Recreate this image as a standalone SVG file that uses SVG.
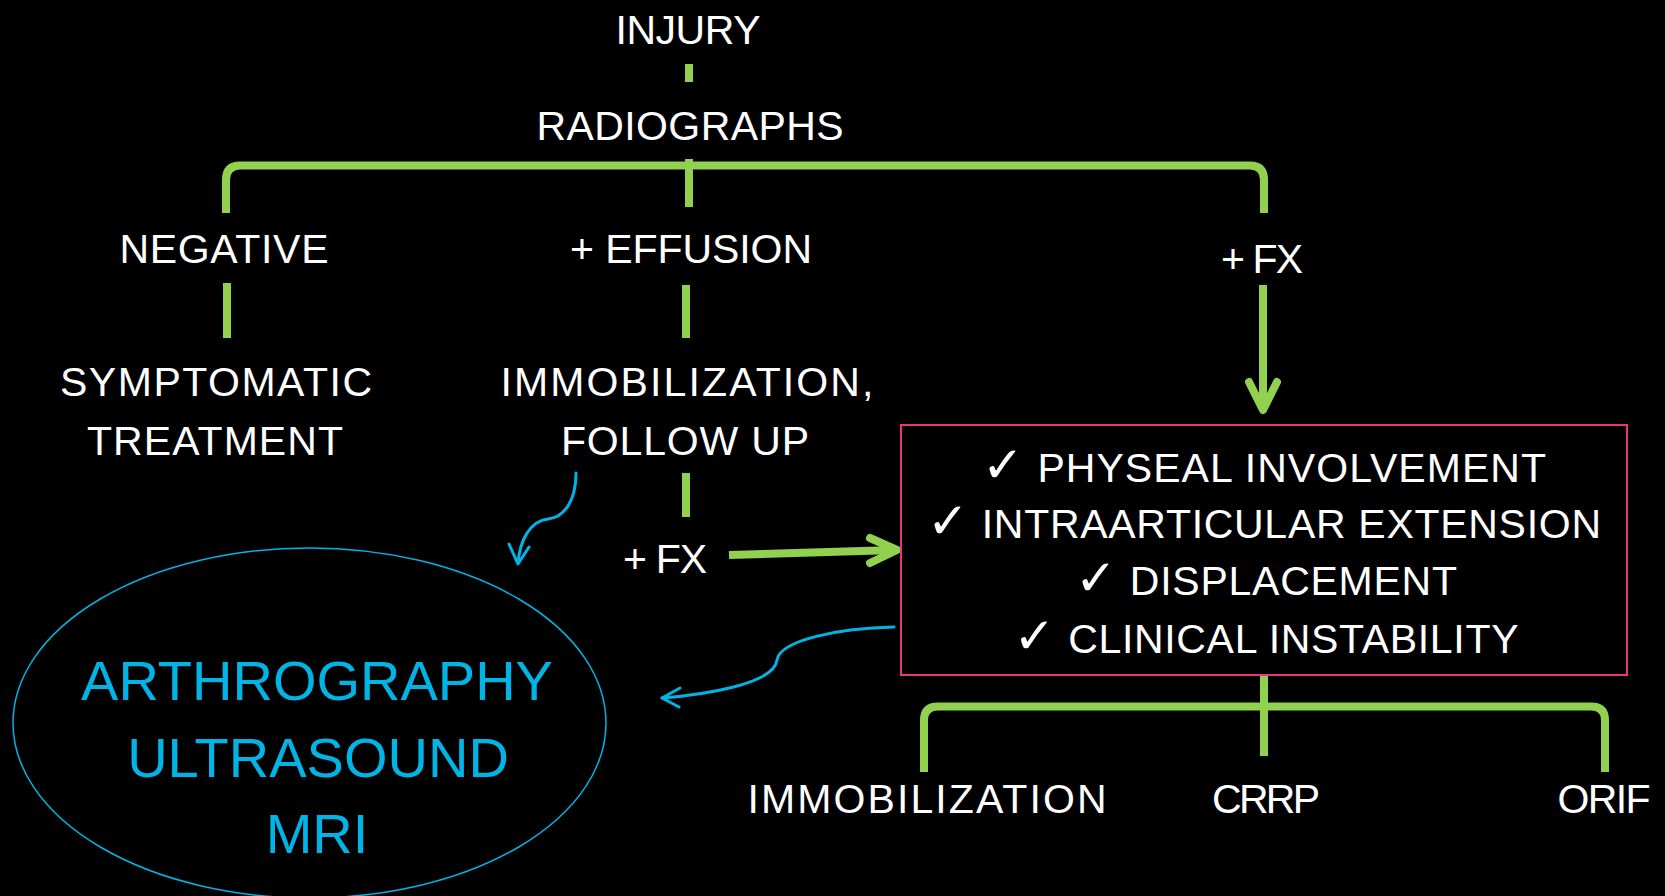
<svg xmlns="http://www.w3.org/2000/svg" width="1665" height="896" viewBox="0 0 1665 896">
<defs>
<style>
.t{font-family:"Liberation Sans","DejaVu Sans",sans-serif;font-size:41px;fill:#ffffff;text-anchor:middle}
.k{font-family:"DejaVu Sans",sans-serif;font-size:50px}
.c{font-family:"Liberation Sans","DejaVu Sans",sans-serif;font-size:56px;fill:#00B4E6;text-anchor:middle}
.g{fill:none;stroke:#92D050;stroke-width:8}
.ga{fill:none;stroke:#92D050;stroke-width:8;stroke-linecap:round;stroke-linejoin:round}
.b{fill:none;stroke:#00B4E6;stroke-width:3;stroke-linecap:round;stroke-linejoin:round}
</style>
</defs>
<rect x="0" y="0" width="1665" height="896" fill="#000000"/>
<g id="connectors">
<line class="g" x1="689" y1="64" x2="689" y2="82"/>
<path class="g" d="M226,213 L226,180 Q226,165.5 240,165.5 L1250,165.5 Q1264,165.5 1264,180 L1264,213"/>
<line class="g" x1="689" y1="159" x2="689" y2="207"/>
<line class="g" x1="227" y1="283" x2="227" y2="338"/>
<line class="g" x1="686" y1="285" x2="686" y2="338"/>
<line class="g" x1="686" y1="473" x2="686" y2="517"/>
<line class="g" x1="1263" y1="285" x2="1263" y2="408"/>
<polyline class="ga" points="1249,382 1263,410 1277,382"/>
<line class="g" x1="729" y1="555" x2="895" y2="550"/>
<polyline class="ga" points="870,538 897,550 870,563"/>
<line class="g" x1="1264" y1="675" x2="1264" y2="756"/>
<path class="g" d="M924,772 L924,720 Q924,706.5 938,706.5 L1591,706.5 Q1605,706.5 1605,720 L1605,772"/>
<path class="b" d="M576,473 C576,500 565,517 548,519 C530,521 520,540 518,563"/>
<polyline class="b" points="509,544 518,564 529,547"/>
<path class="b" d="M894,627 C840,628 780,640 777,660 C774,685 700,695 662,698"/>
<polyline class="b" points="680,688 662,698 679,707"/>
</g>
<g id="injury"><text class="t" x="688" y="44" textLength="145" lengthAdjust="spacing">INJURY</text></g>
<g id="radiographs"><text class="t" x="690" y="140" textLength="307" lengthAdjust="spacing">RADIOGRAPHS</text></g>
<g id="negative"><text class="t" x="224" y="263" textLength="209" lengthAdjust="spacing">NEGATIVE</text></g>
<g id="effusion"><text class="t" x="691" y="263" textLength="242" lengthAdjust="spacing">+ EFFUSION</text></g>
<g id="fx-right"><text class="t" x="1262" y="273" textLength="82" lengthAdjust="spacing">+ FX</text></g>
<g id="symptomatic"><text class="t" x="216" y="396" textLength="312" lengthAdjust="spacing">SYMPTOMATIC</text><text class="t" x="215" y="455" textLength="256" lengthAdjust="spacing">TREATMENT</text></g>
<g id="immobilization-followup"><text class="t" x="687" y="396" textLength="373" lengthAdjust="spacing">IMMOBILIZATION,</text><text class="t" x="685" y="455" textLength="248" lengthAdjust="spacing">FOLLOW UP</text></g>
<g id="fx-mid"><text class="t" x="665" y="573" textLength="84" lengthAdjust="spacing">+ FX</text></g>
<g id="criteria">
<rect x="901" y="425" width="726" height="250" fill="none" stroke="#E8357E" stroke-width="2"/>
<text class="t" x="1264" y="482" textLength="564" lengthAdjust="spacing"><tspan class="k">✓</tspan> PHYSEAL INVOLVEMENT</text>
<text class="t" x="1264" y="538" textLength="674" lengthAdjust="spacing"><tspan class="k">✓</tspan> INTRAARTICULAR EXTENSION</text>
<text class="t" x="1266" y="595" textLength="382" lengthAdjust="spacing"><tspan class="k">✓</tspan> DISPLACEMENT</text>
<text class="t" x="1266" y="653" textLength="505" lengthAdjust="spacing"><tspan class="k">✓</tspan> CLINICAL INSTABILITY</text>
</g>
<g id="imaging">
<ellipse cx="309.5" cy="723" rx="296.5" ry="175" fill="none" stroke="#00B4E6" stroke-width="1.5"/>
<text class="c" x="317" y="700">ARTHROGRAPHY</text>
<text class="c" x="318" y="777">ULTRASOUND</text>
<text class="c" x="317" y="853">MRI</text>
</g>
<g id="immobilization"><text class="t" x="927" y="813" textLength="359" lengthAdjust="spacing">IMMOBILIZATION</text></g>
<g id="crrp"><text class="t" x="1266" y="813" textLength="108" lengthAdjust="spacing">CRRP</text></g>
<g id="orif"><text class="t" x="1604" y="813" textLength="93" lengthAdjust="spacing">ORIF</text></g>
</svg>
